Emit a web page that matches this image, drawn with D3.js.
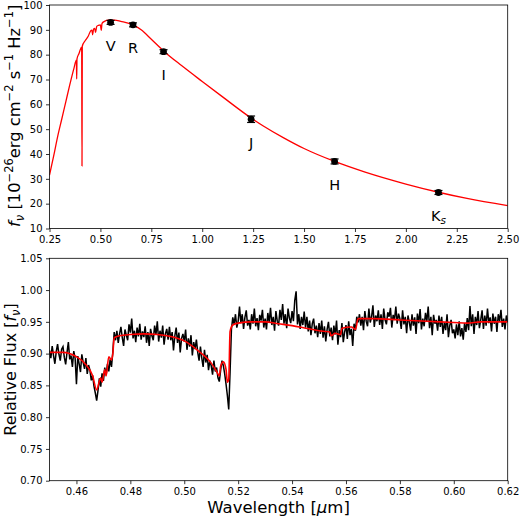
<!DOCTYPE html>
<html>
<head>
<meta charset="utf-8">
<script src="https://cdn.jsdelivr.net/npm/d3@7"></script>
<style>
  body { margin: 0; background: #fff; }
  svg { display: block; font-family: "DejaVu Sans", sans-serif; }
</style>
</head>
<body>
<div id="chart"></div>
<script>
// photometry (top panel)
const bandNames = ['V', 'R', 'I', 'J', 'H', 'K'];
const bandWave = [0.55, 0.66, 0.81, 1.24, 1.65, 2.16];
const bandFlux = [93.0, 92.0, 81.2, 54.0, 37.0, 24.5];
const bandErr = [0.8, 0.8, 0.8, 1.3, 1.0, 0.8];

// model SED (top panel)
const sedWave = [0.25, 0.27, 0.29, 0.31, 0.33, 0.35, 0.37, 0.382, 0.3835, 0.385, 0.395, 0.408, 0.4096, 0.411,
    0.425, 0.44, 0.452, 0.458, 0.462, 0.466, 0.472, 0.476, 0.482, 0.49, 0.5, 0.504, 0.508, 0.52, 0.54, 0.57,
    0.6, 0.66, 0.7, 0.75, 0.81, 0.9, 1.0, 1.1, 1.24, 1.3, 1.4, 1.5, 1.65, 1.8, 2.0, 2.16, 2.3, 2.5];
const sedFlux = [31.5, 39, 47, 54, 61, 68, 74.5, 77.8, 70.2, 78.3, 80.5, 83, 35.2, 83.4,
    85.6, 87.4, 89.6, 89.9, 88.0, 90.2, 90.6, 89.0, 91.4, 91.8, 92.0, 89.8, 92.6, 93.4, 93.9, 93.9,
    93.4, 92.0, 90.0, 86.2, 81.5, 75.5, 69.2, 63.0, 54.5, 51.3, 46.5, 42.2, 37.0, 32.7, 27.9, 24.6, 22.1, 19.2];

// observed spectrum (bottom panel), 0.450 .. 0.620 um every 0.0005 um
const specStart = 0.45;
const specStep = 0.0005;
const specFlux = [
    0.905, 0.893, 0.912, 0.897, 0.884, 0.903, 0.915, 0.899, 0.889, 0.907,
    0.911, 0.894, 0.883, 0.902, 0.918, 0.891, 0.897, 0.879, 0.904, 0.893,
    0.852, 0.896, 0.884, 0.871, 0.899, 0.886, 0.876, 0.893, 0.868, 0.882,
    0.874, 0.858, 0.866, 0.849, 0.838, 0.826, 0.842, 0.861, 0.848, 0.869,
    0.857, 0.878, 0.866, 0.884, 0.872, 0.891, 0.879, 0.903, 0.934, 0.921,
    0.936, 0.917, 0.931, 0.942, 0.925, 0.912, 0.938, 0.929, 0.921, 0.946,
    0.933, 0.955, 0.924, 0.936, 0.918, 0.941, 0.927, 0.947, 0.922, 0.935,
    0.926, 0.943, 0.917, 0.934, 0.912, 0.939, 0.928, 0.921, 0.944, 0.930,
    0.951, 0.919, 0.936, 0.925, 0.944, 0.914, 0.931, 0.939, 0.922, 0.942,
    0.921, 0.934, 0.905, 0.928, 0.941, 0.917, 0.933, 0.902, 0.924, 0.931,
    0.919, 0.938, 0.906, 0.924, 0.911, 0.929, 0.897, 0.918, 0.907, 0.922,
    0.902, 0.889, 0.911, 0.893, 0.879, 0.906, 0.886, 0.898, 0.874, 0.889,
    0.881, 0.867, 0.889, 0.872, 0.878, 0.862, 0.856, 0.874, 0.889, 0.881,
    0.868, 0.852, 0.834, 0.812, 0.871, 0.938, 0.957, 0.946, 0.962, 0.941,
    0.951, 0.974, 0.948, 0.962, 0.939, 0.957, 0.968, 0.944, 0.953, 0.938,
    0.962, 0.947, 0.971, 0.943, 0.956, 0.937, 0.961, 0.952, 0.969, 0.941,
    0.955, 0.938, 0.964, 0.949, 0.972, 0.945, 0.958, 0.936, 0.967, 0.951,
    0.944, 0.969, 0.953, 0.978, 0.947, 0.962, 0.940, 0.971, 0.956, 0.948,
    0.967, 0.951, 0.984, 0.998, 0.946, 0.962, 0.939, 0.958, 0.945, 0.966,
    0.941, 0.958, 0.935, 0.952, 0.929, 0.947, 0.955, 0.932, 0.944, 0.926,
    0.948, 0.931, 0.952, 0.925, 0.943, 0.919, 0.938, 0.950, 0.927, 0.941,
    0.921, 0.944, 0.930, 0.952, 0.914, 0.937, 0.926, 0.948, 0.918, 0.934,
    0.945, 0.923, 0.951, 0.929, 0.939, 0.912, 0.947, 0.936, 0.958, 0.949,
    0.962, 0.944, 0.958, 0.937, 0.967, 0.951, 0.943, 0.971, 0.949, 0.958,
    0.976, 0.942, 0.960, 0.951, 0.968, 0.945, 0.962, 0.939, 0.971, 0.953,
    0.946, 0.965, 0.958, 0.972, 0.941, 0.961, 0.953, 0.974, 0.947, 0.963,
    0.955, 0.939, 0.968, 0.946, 0.958, 0.932, 0.960, 0.949, 0.936, 0.962,
    0.944, 0.957, 0.931, 0.963, 0.948, 0.970, 0.938, 0.955, 0.943, 0.964,
    0.951, 0.974, 0.940, 0.958, 0.929, 0.961, 0.947, 0.953, 0.936, 0.960,
    0.942, 0.958, 0.931, 0.949, 0.937, 0.962, 0.926, 0.944, 0.953, 0.932,
    0.938, 0.924, 0.946, 0.929, 0.951, 0.927, 0.940, 0.922, 0.948, 0.934,
    0.956, 0.937, 0.975, 0.943, 0.962, 0.931, 0.958, 0.945, 0.967, 0.940,
    0.953, 0.968, 0.939, 0.960, 0.944, 0.971, 0.948, 0.957, 0.935, 0.963,
    0.947, 0.958, 0.934, 0.962, 0.951, 0.969, 0.942, 0.955, 0.938, 0.960,
    0.950
];

// model spectrum (bottom panel)
const modelWave = [0.45, 0.455, 0.46, 0.463, 0.466, 0.4675, 0.469, 0.4695, 0.4705, 0.471, 0.472, 0.473, 0.4735, 0.474,
    0.476, 0.48, 0.485, 0.49, 0.495, 0.5, 0.505, 0.51, 0.512, 0.513, 0.5135, 0.5145, 0.5155, 0.516, 0.5165, 0.517,
    0.518, 0.52, 0.525, 0.53, 0.535, 0.54, 0.545, 0.55, 0.554, 0.5545, 0.556, 0.558, 0.5585, 0.562, 0.5635, 0.5645,
    0.57, 0.58, 0.59, 0.6, 0.605, 0.61, 0.62];
const modelFlux = [0.902, 0.902, 0.895, 0.885, 0.865, 0.843, 0.862, 0.855, 0.875, 0.865, 0.895, 0.89, 0.9, 0.925,
    0.928, 0.93, 0.931, 0.93, 0.927, 0.92, 0.905, 0.885, 0.872, 0.865, 0.88, 0.887, 0.875, 0.855, 0.86, 0.935,
    0.945, 0.948, 0.95, 0.95, 0.947, 0.944, 0.94, 0.936, 0.934, 0.928, 0.932, 0.93, 0.94, 0.942, 0.938, 0.955,
    0.955, 0.953, 0.951, 0.949, 0.948, 0.95, 0.95];

const topXTicks = [0.25, 0.5, 0.75, 1.0, 1.25, 1.5, 1.75, 2.0, 2.25, 2.5];
const topYTicks = [10, 20, 30, 40, 50, 60, 70, 80, 90, 100];
const botXTicks = [0.46, 0.48, 0.5, 0.52, 0.54, 0.56, 0.58, 0.6, 0.62];
const botYTicks = [0.7, 0.75, 0.8, 0.85, 0.9, 0.95, 1.0, 1.05];

const width = 520, height = 519;
const left = 49.5, right = 507.7;
const topPanel = { top: 5, bottom: 228.5 };
const botPanel = { top: 258.3, bottom: 480.7 };

const svg = d3.select('#chart').append('svg')
    .attr('width', width)
    .attr('height', height)
    .attr('viewBox', [0, 0, width, height]);

const fmt2 = d3.format('.2f');

function drawAxes(g, x, y, xTicks, yTicks, yFmt, panel) {
    g.append('g')
        .attr('transform', `translate(0,${panel.bottom})`)
        .call(d3.axisBottom(x).tickValues(xTicks).tickFormat(fmt2).tickSize(3.5).tickPadding(3.5).tickSizeOuter(0))
        .call(a => styleAxis(a));
    g.append('g')
        .attr('transform', `translate(${left},0)`)
        .call(d3.axisLeft(y).tickValues(yTicks).tickFormat(yFmt).tickSize(3.5).tickPadding(3.5).tickSizeOuter(0))
        .call(a => styleAxis(a));
}

function styleAxis(a) {
    a.attr('font-family', '"DejaVu Sans", sans-serif').attr('font-size', 10);
    a.select('.domain').remove();
    a.selectAll('.tick line').attr('stroke', '#000').attr('stroke-width', 0.8);
    a.selectAll('.tick text').attr('fill', '#000');
}

function frame(g, panel) {
    g.append('rect')
        .attr('x', left).attr('y', panel.top)
        .attr('width', right - left).attr('height', panel.bottom - panel.top)
        .attr('fill', 'none').attr('stroke', '#000').attr('stroke-width', 0.8);
}

function clip(id, panel) {
    svg.append('clipPath').attr('id', id)
        .append('rect')
        .attr('x', left).attr('y', panel.top)
        .attr('width', right - left).attr('height', panel.bottom - panel.top);
}

// ---------- top panel ----------
const xTop = d3.scaleLinear().domain([0.25, 2.5]).range([left, right]);
const yTop = d3.scaleLinear().domain([10, 100]).range([topPanel.bottom, topPanel.top]);
clip('clipTop', topPanel);

const gTop = svg.append('g');
drawAxes(gTop, xTop, yTop, topXTicks, topYTicks, d3.format('d'), topPanel);

gTop.append('path')
    .datum(sedWave.map((w, i) => [w, sedFlux[i]]))
    .attr('clip-path', 'url(#clipTop)')
    .attr('fill', 'none')
    .attr('stroke', '#ff0000')
    .attr('stroke-width', 1.3)
    .attr('d', d3.line().x(d => xTop(d[0])).y(d => yTop(d[1])).curve(d3.curveMonotoneX));

const bands = bandNames.map((name, i) => ({ name, w: bandWave[i], f: bandFlux[i], e: bandErr[i] }));
const pts = gTop.append('g').selectAll('g').data(bands).join('g');
pts.append('line')
    .attr('x1', d => xTop(d.w)).attr('x2', d => xTop(d.w))
    .attr('y1', d => yTop(d.f - d.e)).attr('y2', d => yTop(d.f + d.e))
    .attr('stroke', '#000').attr('stroke-width', 1.2);
[-1, 1].forEach(s => {
    pts.append('line')
        .attr('x1', d => xTop(d.w) - 4).attr('x2', d => xTop(d.w) + 4)
        .attr('y1', d => yTop(d.f + s * d.e)).attr('y2', d => yTop(d.f + s * d.e))
        .attr('stroke', '#000').attr('stroke-width', 1.2);
});
pts.append('circle')
    .attr('cx', d => xTop(d.w)).attr('cy', d => yTop(d.f))
    .attr('r', 3.4).attr('fill', '#000');
const labels = pts.append('text')
    .attr('x', d => xTop(d.w)).attr('y', d => yTop(d.f) + 28.5)
    .attr('text-anchor', 'middle')
    .attr('font-size', 14.5)
    .attr('fill', '#000');
labels.append('tspan').text(d => d.name);
labels.filter(d => d.name === 'K').append('tspan')
    .attr('font-style', 'italic').attr('font-size', 10.5).attr('dy', 3)
    .text('s');

frame(gTop, topPanel);

// y label top: f_ν [10^-26 erg cm^-2 s^-1 Hz^-1]
const yl = svg.append('text')
    .attr('transform', `translate(19.5,${(topPanel.top + topPanel.bottom) / 2 - 1}) rotate(-90)`)
    .attr('text-anchor', 'middle')
    .attr('font-size', 16.3)
    .attr('fill', '#000');
[
    ['f', 'italic', 0, null],
    ['ν', 'italic', 4, 11.5],
    [' [10', null, -4, null],
    ['−26', null, -6.5, 11.5],
    ['erg cm', null, 6.5, null],
    ['−2', null, -6.5, 11.5],
    [' s', null, 6.5, null],
    ['−1', null, -6.5, 11.5],
    [' Hz', null, 6.5, null],
    ['−1', null, -6.5, 11.5],
    [']', null, 6.5, null]
].forEach(([t, style, dy, size]) => {
    const ts = yl.append('tspan').text(t);
    if (style) ts.attr('font-style', style);
    if (dy) ts.attr('dy', dy);
    if (size) ts.attr('font-size', size);
});

// ---------- bottom panel ----------
const xBot = d3.scaleLinear().domain([0.45, 0.62]).range([left, right]);
const yBot = d3.scaleLinear().domain([0.7, 1.05]).range([botPanel.bottom, botPanel.top]);
clip('clipBot', botPanel);

const gBot = svg.append('g');
drawAxes(gBot, xBot, yBot, botXTicks, botYTicks, fmt2, botPanel);

gBot.append('path')
    .datum(specFlux.map((f, i) => [specStart + i * specStep, f]))
    .attr('clip-path', 'url(#clipBot)')
    .attr('fill', 'none')
    .attr('stroke', '#000')
    .attr('stroke-width', 1.5)
    .attr('stroke-linejoin', 'miter')
    .attr('d', d3.line().x(d => xBot(d[0])).y(d => yBot(d[1])));

gBot.append('path')
    .datum(modelWave.map((w, i) => [w, modelFlux[i]]))
    .attr('clip-path', 'url(#clipBot)')
    .attr('fill', 'none')
    .attr('stroke', '#ff0000')
    .attr('stroke-width', 1.6)
    .attr('d', d3.line().x(d => xBot(d[0])).y(d => yBot(d[1])).curve(d3.curveMonotoneX));

frame(gBot, botPanel);

const yl2 = svg.append('text')
    .attr('transform', `translate(15.5,${(botPanel.top + botPanel.bottom) / 2}) rotate(-90)`)
    .attr('text-anchor', 'middle')
    .attr('font-size', 16)
    .attr('fill', '#000');
yl2.append('tspan').text('Relative Flux [');
yl2.append('tspan').attr('font-style', 'italic').text('f');
yl2.append('tspan').attr('font-style', 'italic').attr('font-size', 11.5).attr('dy', 4).text('ν');
yl2.append('tspan').attr('dy', -4).text(']');

const xl = svg.append('text')
    .attr('x', (left + right) / 2).attr('y', 513)
    .attr('text-anchor', 'middle')
    .attr('font-size', 16.5)
    .attr('fill', '#000');
xl.append('tspan').text('Wavelength [');
xl.append('tspan').attr('font-style', 'italic').text('μ');
xl.append('tspan').text('m]');
</script>
</body>
</html>
